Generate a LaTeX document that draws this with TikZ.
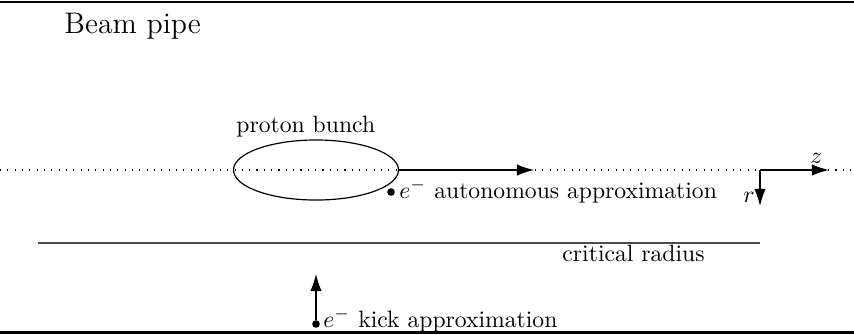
\documentclass[tikz,border=0pt]{standalone}
\usetikzlibrary{arrows.meta,shapes.geometric}
\begin{document}
\begin{tikzpicture}[x=0.423pt,y=-0.423pt,
  wall/.style={line width=0.9pt},
  vec/.style={line width=0.5pt,-{Latex[length=7.2pt,width=4.8pt]}},
  lbl/.style={inner sep=0pt,anchor=base west},
  edot/.style={circle,fill,inner sep=0pt,minimum size=3.2pt}]
\useasboundingbox (0,0) rectangle (854,334);
% beam pipe walls
\coordinate (tl) at (0,2); \coordinate (tr) at (854,2);
\coordinate (bl) at (0,332.5); \coordinate (br) at (854,332.5);
\draw[wall] (tl) -- (tr);
\draw[wall] (bl) -- (br);
\node[lbl,font=\fontsize{12.6}{15}\selectfont] (bp) at (64,33) {Beam pipe};
% axis
\coordinate (al) at (0,170); \coordinate (ar) at (854,170);
\draw[line width=0.5pt,dash pattern=on 0.45pt off 2.65pt] (al) -- (ar);
% proton bunch
\node[draw,ellipse,line width=0.5pt,inner sep=0pt,minimum width=69.8pt,minimum height=25.4pt] (bunch) at (316,170) {};
\coordinate (bunchArrow) at (534,170);
\node[lbl] (pb) at (236,132) {proton bunch};
\draw[vec] (bunch.east) -- (bunchArrow);
% autonomous electron
\node[edot] (ea) at (391,192) {};
\node[lbl] (eal) at (399,198) {$e^-$ autonomous approximation};
% coordinate system
\coordinate (o) at (760,170);
\coordinate (oz) at (829,170);
\coordinate (or) at (760,206);
\draw[vec] (o) -- (oz);
\draw[vec] (o) -- (or);
\node[lbl] (zl) at (810,163) {$z$};
\node[lbl] (rl) at (743,202) {$r$};
% critical radius
\coordinate (cl) at (38,243); \coordinate (cr) at (760,243);
\draw[line width=0.6pt,black!70] (cl) -- (cr);
\node[lbl] (crl) at (562,261) {critical radius};
% kick electron
\node[edot] (ek) at (316,324) {};
\coordinate (kt) at (316,274);
\draw[vec] (ek) -- (kt);
\node[lbl] (ekl) at (323,327) {$e^-$ kick approximation};
\end{tikzpicture}
\end{document}
